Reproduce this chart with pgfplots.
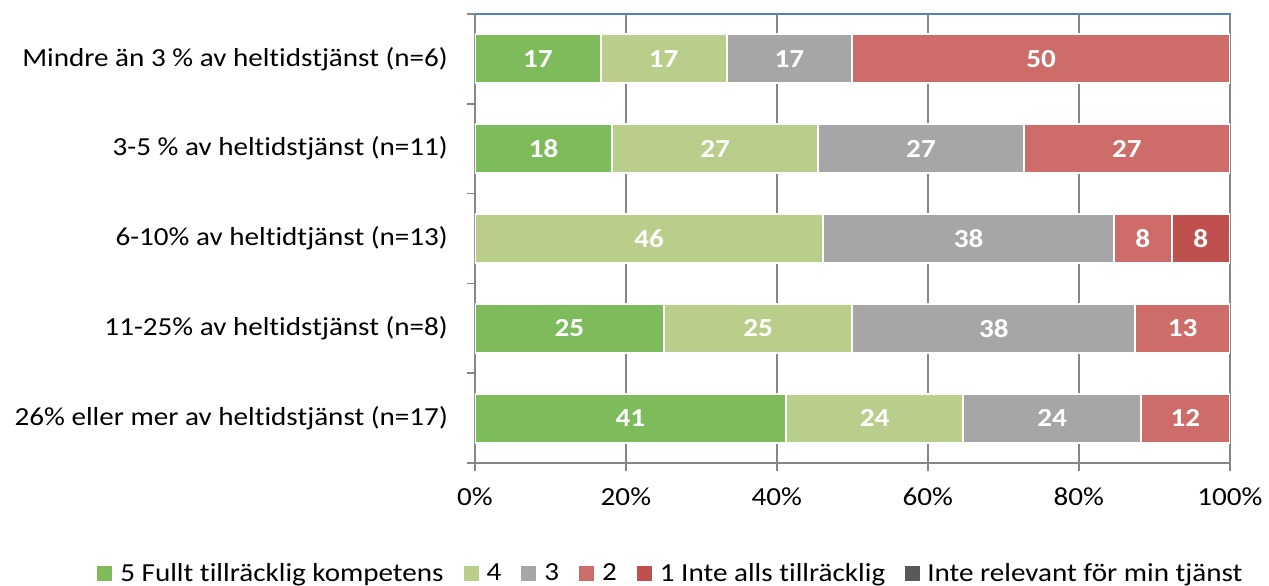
\documentclass[border=0pt]{standalone}
\usepackage{pgfplots}
\pgfplotsset{compat=1.18}
\usepackage{pgfplotstable}
\usepackage{fontspec}
\setmainfont{Carlito}[FakeStretch=1.12, Ligatures=NoCommon]
\definecolor{c5}{RGB}{125,187,91}
\definecolor{c4}{RGB}{185,206,139}
\definecolor{c3}{RGB}{166,166,166}
\definecolor{c2}{RGB}{205,108,105}
\definecolor{c1}{RGB}{192,80,77}
\definecolor{c0}{RGB}{89,89,89}
\definecolor{axgray}{RGB}{134,134,134}
\definecolor{axblue}{RGB}{79,129,189}
% y: 5 = Mindre än 3 %, ..., 1 = 26% eller mer
\pgfplotstableread{
y v
1 41.176
2 25
3 0
4 18.182
5 16.667
}\sfive
\pgfplotstableread{
y v
1 23.529
2 25
3 46.154
4 27.273
5 16.667
}\sfour
\pgfplotstableread{
y v
1 23.529
2 37.5
3 38.462
4 27.273
5 16.667
}\sthree
\pgfplotstableread{
y v
1 11.765
2 12.5
3 7.692
4 27.273
5 50
}\stwo
\pgfplotstableread{
y v
1 0
2 0
3 7.692
4 0
5 0
}\sone
% label positions (middle of each segment) and shown values
\pgfplotstableread{
y mid lab
5 8.333 17
5 25 17
5 41.667 17
5 75 50
4 9.091 18
4 31.818 27
4 59.091 27
4 86.364 27
3 23.077 46
3 65.385 38
3 88.462 8
3 96.154 8
2 12.5 25
2 37.5 25
2 68.75 38
2 93.75 13
1 20.588 41
1 52.941 24
1 76.471 24
1 94.118 12
}\labs
\pgfplotsset{
  base/.style={scale only axis, width=377.5pt, height=224.5pt,
    xmin=0, xmax=100, ymin=0.5, ymax=5.5},
}
\begin{document}
\begin{tikzpicture}[font=\fontsize{13}{15.6}\selectfont]
\begin{axis}[
  base,
  xbar stacked, bar width=24.5pt,
  xtick={0,20,...,100}, xticklabels={0\%,20\%,40\%,60\%,80\%,100\%},
  ytick={1,2,3,4,5},
  yticklabels={26\% eller mer av heltidstjänst (n=17),11-25\% av heltidstjänst (n=8),6-10\% av heltidtjänst (n=13),3-5 \% av heltidstjänst (n=11),Mindre än 3 \% av heltidstjänst (n=6)},
  minor ytick={0.5,1.5,...,5.5},
  major y tick style={draw=none},
  tick align=outside, major tick length=4pt, minor tick length=4pt,
  axis x line*=bottom, axis y line*=left,
  axis line style={draw=axgray, line width=1pt, -},
  axis background/.style={draw=axblue, line width=0.75pt},
  xmajorgrids, grid style={axgray, line width=0.75pt},
  tick style={axgray, line width=0.75pt},
  yticklabel style={xshift=-6pt},
  xticklabel style={yshift=-5pt},
  legend style={at={(axis description cs:-0.5007,-0.2472)}, anchor=west, draw=none, fill=none, inner sep=0pt,
    nodes={inner sep=0pt}, legend columns=-1,
    /tikz/every even column/.append style={column sep=10pt}, font=\fontsize{13}{15.6}\selectfont},
  sqleg/.style={legend image code/.code={\fill[##1,draw=none] (0pt,-3.75pt) rectangle (7.5pt,3.75pt); \path (11pt,0pt);}},
]
\addplot[fill=c5, draw=white, line width=1pt, sqleg] table[x=v, y=y] {\sfive};
\addlegendentry{5 Fullt tillräcklig kompetens}
\addplot[fill=c4, draw=white, line width=1pt, sqleg] table[x=v, y=y] {\sfour};
\addlegendentry{4}
\addplot[fill=c3, draw=white, line width=1pt, sqleg] table[x=v, y=y] {\sthree};
\addlegendentry{3}
\addplot[fill=c2, draw=white, line width=1pt, sqleg] table[x=v, y=y] {\stwo};
\addlegendentry{2}
\addplot[fill=c1, draw=white, line width=1pt, sqleg] table[x=v, y=y] {\sone};
\addlegendentry{1 Inte alls tillräcklig}
\addlegendimage{fill=c0, draw=none, sqleg}
\addlegendentry{Inte relevant för min tjänst}
\end{axis}
\begin{axis}[
  base, axis lines=none, clip=false,
  point meta=explicit symbolic,
]
\addplot[only marks, mark=none, nodes near coords, nodes near coords align={center},
  every node near coord/.append style={font=\fontsize{13}{15.6}\selectfont\bfseries, text=white, anchor=center}]
  table[x=mid, y=y, meta=lab] {\labs};
\end{axis}
\path (current axis.south west) ++(-237.5pt,-61.5pt) rectangle ++(634.5pt,293pt);
\end{tikzpicture}
\end{document}
